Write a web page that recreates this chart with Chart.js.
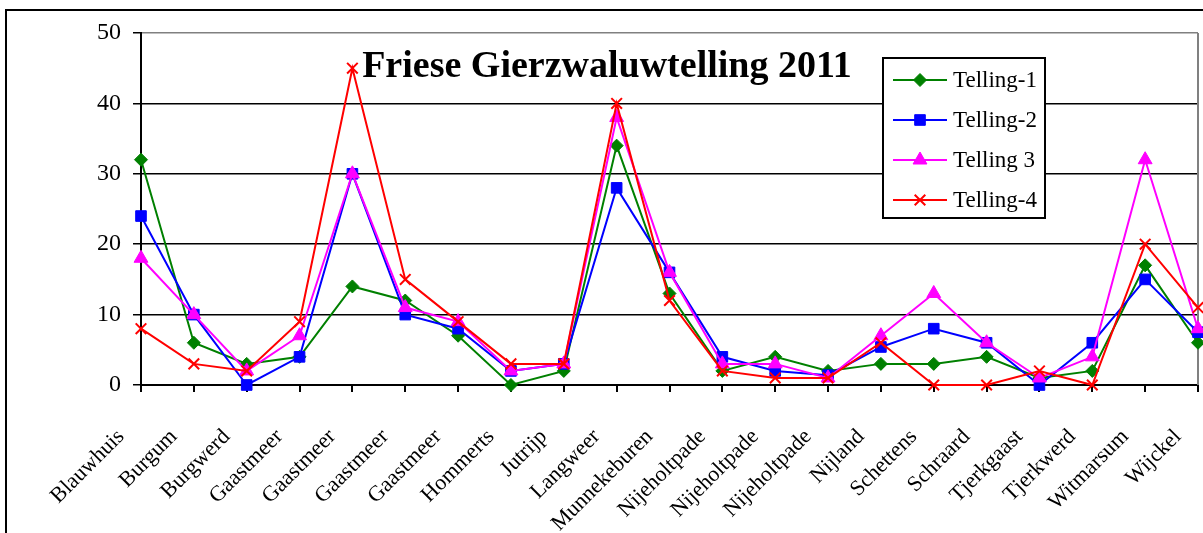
<!DOCTYPE html>
<html>
<head>
<meta charset="utf-8">
<script src="https://cdn.jsdelivr.net/npm/chart.js@4.4.1/dist/chart.umd.min.js"></script>
<style>
  html, body { margin: 0; padding: 0; background: #fff; }
  #wrap { position: relative; width: 1203px; height: 533px; overflow: hidden; }
  canvas { display: block; }
</style>
</head>
<body>
<div id="wrap"><canvas id="c" width="1203" height="533"></canvas></div>
<script>
// ---- data ----
const categories = ['Blauwhuis','Burgum','Burgwerd','Gaastmeer','Gaastmeer','Gaastmeer','Gaastmeer','Hommerts','Jutrijp','Langweer','Munnekeburen','Nijeholtpade','Nijeholtpade','Nijeholtpade','Nijland','Schettens','Schraard','Tjerkgaast','Tjerkwerd','Witmarsum','Wijckel'];
const seriesNames = ['Telling-1', 'Telling-2', 'Telling 3', 'Telling-4'];
const telling1 = [32, 6, 3, 4, 14, 12, 7, 0, 2, 34, 13, 2, 4, 2, 3, 3, 4, 1, 2, 17, 6];
const telling2 = [24, 10, 0, 4, 30, 10, 8, 2, 3, 28, 16, 4, 2, 1.4, 5.4, 8, 6, 0, 6, 15, 7.5];
const telling3 = [18, 10, 2, 7, 30, 11, 9, 2, 3, 38, 16, 3, 3, 1, 7, 13, 6, 1, 4, 32, 8];
const telling4 = [8, 3, 2, 9, 45, 15, 9, 3, 3, 40, 12, 2, 1, 1, 6, 0, 0, 2, 0, 20, 11];
const yTicks = [0, 10, 20, 30, 40, 50];
const titleText = 'Friese Gierzwaluwtelling 2011';

const FONT = "'Liberation Serif', 'Times New Roman', serif";

const styles = [
  { color: '#008000', style: 'rectRot', radius: 6.5 },
  { color: '#0000FF', style: 'rect', radius: 7.5 },
  { color: '#FF00FF', style: 'triangle', radius: 8 },
  { color: '#FF0000', style: 'crossRot', radius: 7.5 }
];
const values = [telling1, telling2, telling3, telling4];

const datasets = values.map((v, i) => ({
  label: seriesNames[i],
  data: v,
  borderColor: styles[i].color,
  backgroundColor: styles[i].color,
  borderWidth: 2,
  pointStyle: styles[i].style,
  pointRadius: styles[i].radius,
  pointBorderColor: styles[i].color,
  pointBackgroundColor: styles[i].color,
  pointBorderWidth: styles[i].style === 'crossRot' ? 2 : 1,
  tension: 0,
  fill: false,
  clip: false,
  order: 4 - i
}));

function drawMarker(ctx, style, x, y, r, color) {
  ctx.save();
  ctx.fillStyle = color; ctx.strokeStyle = color;
  ctx.beginPath();
  if (style === 'rectRot') {
    ctx.moveTo(x - r, y); ctx.lineTo(x, y - r); ctx.lineTo(x + r, y); ctx.lineTo(x, y + r); ctx.closePath();
    ctx.lineWidth = 1; ctx.fill(); ctx.stroke();
  } else if (style === 'rect') {
    const s = Math.SQRT1_2 * r;
    ctx.rect(x - s, y - s, 2 * s, 2 * s);
    ctx.lineWidth = 1; ctx.fill(); ctx.stroke();
  } else if (style === 'triangle') {
    const a = 0;
    ctx.moveTo(x + Math.sin(a) * r, y - Math.cos(a) * r);
    ctx.lineTo(x + Math.sin(a + 2 * Math.PI / 3) * r, y - Math.cos(a + 2 * Math.PI / 3) * r);
    ctx.lineTo(x + Math.sin(a + 4 * Math.PI / 3) * r, y - Math.cos(a + 4 * Math.PI / 3) * r);
    ctx.closePath();
    ctx.lineWidth = 1; ctx.fill(); ctx.stroke();
  } else if (style === 'crossRot') {
    const o = Math.SQRT1_2 * r;
    ctx.moveTo(x - o, y - o); ctx.lineTo(x + o, y + o);
    ctx.moveTo(x + o, y - o); ctx.lineTo(x - o, y + o);
    ctx.lineWidth = 2; ctx.stroke();
  }
  ctx.restore();
}

const decor = {
  id: 'decor',
  beforeDraw(chart) {
    const ctx = chart.ctx;
    ctx.save();
    ctx.fillStyle = '#fff';
    ctx.fillRect(0, 0, chart.width, chart.height);
    // outer chart frame (cut off at right and bottom)
    ctx.strokeStyle = '#000';
    ctx.lineWidth = 2;
    ctx.beginPath();
    ctx.moveTo(6, chart.height + 2); ctx.lineTo(6, 10); ctx.lineTo(chart.width + 2, 10);
    ctx.stroke();
    ctx.restore();
  },
  beforeDatasetsDraw(chart) {
    const ctx = chart.ctx, a = chart.chartArea;
    ctx.save();
    ctx.strokeStyle = '#808080';
    ctx.lineWidth = 2;
    ctx.beginPath();
    ctx.moveTo(a.right, a.top); ctx.lineTo(a.right, a.bottom);
    ctx.stroke();
    ctx.restore();
  },
  afterDraw(chart) {
    const ctx = chart.ctx;
    ctx.save();
    // title
    ctx.fillStyle = '#000';
    ctx.font = "bold 38px " + FONT;
    ctx.textAlign = 'center';
    ctx.textBaseline = 'alphabetic';
    ctx.fillText(titleText, 607, 77);
    // legend
    const bx = 883, by = 58, bw = 162, bh = 160;
    ctx.fillStyle = '#fff';
    ctx.fillRect(bx, by, bw, bh);
    ctx.strokeStyle = '#000';
    ctx.lineWidth = 2;
    ctx.strokeRect(bx, by, bw, bh);
    chart.data.datasets.forEach((ds, i) => {
      const y = 80 + i * 40;
      ctx.strokeStyle = ds.borderColor;
      ctx.lineWidth = 2;
      ctx.beginPath();
      ctx.moveTo(893, y); ctx.lineTo(947, y);
      ctx.stroke();
      drawMarker(ctx, ds.pointStyle, 920, y, ds.pointRadius, ds.borderColor);
      ctx.fillStyle = '#000';
      ctx.font = "23px " + FONT;
      ctx.textAlign = 'left';
      ctx.textBaseline = 'middle';
      ctx.fillText(ds.label, 953, y + 1);
    });
    ctx.restore();
  }
};

new Chart(document.getElementById('c'), {
  type: 'line',
  data: { labels: categories, datasets },
  options: {
    responsive: false,
    animation: false,
    devicePixelRatio: 1,
    layout: { autoPadding: false, padding: { left: 0, right: 5, top: 33, bottom: 0 } },
    plugins: { legend: { display: false }, title: { display: false }, tooltip: { enabled: false } },
    elements: { line: { borderWidth: 2 } },
    scales: {
      x: {
        type: 'category',
        offset: false,
        grid: { display: true, drawOnChartArea: false, drawTicks: true, tickLength: 7, color: '#000', lineWidth: 2 },
        border: { display: true, color: '#000', width: 2 },
        ticks: {
          autoSkip: false, minRotation: 45, maxRotation: 45,
          color: '#000', font: { family: FONT, size: 22 },
          labelOffset: -20, padding: 32
        },
        afterFit(s) { s.height = 148; s.paddingLeft = 0; s.paddingRight = 0; }
      },
      y: {
        min: 0, max: 50,
        afterBuildTicks(s) { s.ticks = yTicks.map(v => ({ value: v })); },
        grid: {
          color: (c) => (c.tick && c.tick.value === 50 ? '#808080' : '#000'),
          tickColor: '#000',
          lineWidth: 1.5, tickLength: 8, drawTicks: true
        },
        border: { display: true, color: '#000', width: 2 },
        ticks: { color: '#000', font: { family: FONT, size: 24 }, padding: 12 },
        afterFit(s) { s.width = 141; }
      }
    }
  },
  plugins: [decor]
});
</script>
</body>
</html>
